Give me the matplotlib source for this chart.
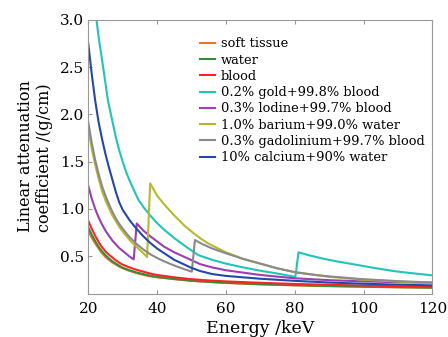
import matplotlib
matplotlib.use("Agg")
import matplotlib.pyplot as plt

# energies (keV)
E_base = [20, 21, 22, 23, 24, 25, 26, 27, 28, 29, 30, 32, 34, 36, 38, 40, 45, 50, 55, 60, 70, 80, 90, 100, 110, 120]
soft_tissue = [0.77, 0.695, 0.635, 0.58, 0.53, 0.49, 0.46, 0.432, 0.41, 0.388, 0.37, 0.343, 0.32, 0.30, 0.285, 0.275,
               0.255, 0.237, 0.225, 0.215, 0.2, 0.19, 0.181, 0.175, 0.169, 0.164]
water = [0.805, 0.725, 0.66, 0.6, 0.55, 0.51, 0.475, 0.445, 0.42, 0.398, 0.378, 0.35, 0.327, 0.31, 0.293, 0.28,
         0.258, 0.24, 0.228, 0.218, 0.203, 0.192, 0.184, 0.177, 0.171, 0.166]
blood = [0.875, 0.79, 0.715, 0.65, 0.595, 0.55, 0.515, 0.485, 0.455, 0.43, 0.41, 0.38, 0.355, 0.335, 0.315, 0.30,
         0.275, 0.255, 0.242, 0.232, 0.217, 0.205, 0.196, 0.188, 0.181, 0.175]

E_gold = [20, 21, 22, 22.4, 23, 24, 25, 25.7, 27, 28, 29, 30, 31, 32, 34.5, 36, 38, 40, 42, 45, 48, 52, 56, 60,
          65, 70, 75, 80.2, 81.1, 84, 88, 92, 97.6, 103, 109, 115, 120]
gold = [3.75, 3.4, 3.1, 3.0, 2.82, 2.58, 2.33, 2.15, 1.93, 1.76, 1.62, 1.5, 1.39, 1.30, 1.10, 1.02, 0.93, 0.85,
        0.78, 0.69, 0.61, 0.51, 0.46, 0.42, 0.38, 0.345, 0.315, 0.28, 0.54, 0.51, 0.475, 0.445, 0.41, 0.375,
        0.34, 0.315, 0.296]

E_iodine = [20, 21, 22, 23, 24, 25, 26, 27, 28, 29, 30, 31, 32, 33.2, 34.1, 36, 38, 40, 42, 45, 48, 52.5, 56,
            60, 70, 80, 90, 100, 110, 120]
iodine = [1.245, 1.11, 1.0, 0.91, 0.835, 0.77, 0.715, 0.665, 0.625, 0.585, 0.555, 0.525, 0.495, 0.465, 0.845,
          0.77, 0.71, 0.655, 0.60, 0.54, 0.49, 0.415, 0.38, 0.35, 0.30, 0.265, 0.245, 0.232, 0.224, 0.218]

E_barium = [20, 21, 22, 23, 24, 25, 26, 27, 28, 29, 30, 32, 34, 36, 37.1, 38.0, 40, 42, 45, 48, 50, 52.5, 55,
            60, 65, 70, 75, 80, 90, 100, 110, 120]
barium = [1.86, 1.64, 1.47, 1.32, 1.19, 1.09, 1.01, 0.93, 0.87, 0.81, 0.76, 0.67, 0.60, 0.53, 0.49, 1.27, 1.14,
          1.05, 0.93, 0.82, 0.76, 0.69, 0.63, 0.54, 0.47, 0.42, 0.37, 0.33, 0.28, 0.25, 0.23, 0.213]

E_gad = [20, 21, 22, 23, 24, 25, 26, 27, 28, 29, 30, 32, 34, 36, 38, 40, 42, 45, 48, 50.1, 51.0, 53, 56, 60,
         65, 70, 75, 80, 86, 90, 100, 110, 120]
gadolinium = [1.92, 1.70, 1.52, 1.37, 1.24, 1.14, 1.05, 0.97, 0.90, 0.84, 0.79, 0.70, 0.63, 0.57, 0.52, 0.48,
              0.445, 0.40, 0.36, 0.335, 0.67, 0.63, 0.58, 0.53, 0.47, 0.42, 0.37, 0.33, 0.30, 0.285, 0.255,
              0.235, 0.22]

E_cal = [20, 21, 22, 23, 24, 25, 26, 27, 28, 29, 30, 32, 34, 36, 38, 40, 45, 50, 52.5, 56, 60, 70, 80, 90, 100,
         110, 120]
calcium = [2.75, 2.43, 2.15, 1.92, 1.74, 1.58, 1.44, 1.31, 1.18, 1.07, 0.99, 0.88, 0.79, 0.71, 0.64, 0.58, 0.46,
           0.375, 0.342, 0.31, 0.29, 0.26, 0.238, 0.22, 0.207, 0.198, 0.19]

labels = ["soft tissue", "water", "blood", "0.2% gold+99.8% blood",
          "0.3% lodine+99.7% blood", "1.0% barium+99.0% water",
          "0.3% gadolinium+99.7% blood", "10% calcium+90% water"]
colors = ["#e8762b", "#3b8a3b", "#ff2424", "#22c4b8", "#9a3fb0", "#b8b830", "#8a8a8a", "#2448a8"]

series = [(E_base, soft_tissue), (E_base, water), (E_base, blood), (E_gold, gold),
          (E_iodine, iodine), (E_barium, barium), (E_gad, gadolinium), (E_cal, calcium)]

plt.rcParams['font.family'] = ['DejaVu Serif']
fig = plt.figure(figsize=(4.48, 3.37), dpi=100)
ax = fig.add_axes([0.197, 0.128, 0.768, 0.813])

for (x, y), lab, c in zip(series, labels, colors):
    ax.plot(x, y, color=c, lw=1.5, label=lab)

ax.set_xlim(20, 120)
ax.set_ylim(0.1, 3.0)
ax.set_xticks([20, 40, 60, 80, 100, 120])
ax.set_yticks([0.5, 1.0, 1.5, 2.0, 2.5, 3.0])
ax.tick_params(direction='in', labelsize=11, length=3, color='#999999', top=True)
ax.tick_params(axis='x', pad=6)
ax.tick_params(axis='y', pad=3)
for s in ax.spines.values():
    s.set_color('#999999')
ax.set_xlabel("Energy /keV", fontsize=12.5, labelpad=3)
fig.text(35 / 448, 1 - 232 / 337, "Linear attenuation\ncoefficient /(g/cm)", rotation=90,
         ha='center', va='bottom', multialignment='left', fontsize=11.5, linespacing=1.15)

leg = ax.legend(loc='upper right', frameon=False, fontsize=9.4, handlelength=1.15,
                handletextpad=0.45, labelspacing=0.25, bbox_to_anchor=(1.0, 0.965),
                borderaxespad=0.2)

fig.savefig("out.png", dpi=100)
